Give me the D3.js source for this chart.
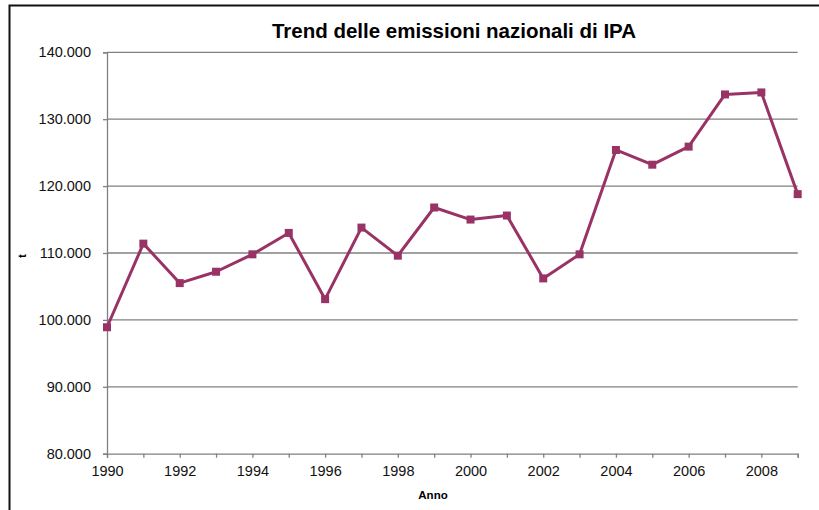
<!DOCTYPE html>
<html>
<head>
<meta charset="utf-8">
<script src="https://cdn.jsdelivr.net/npm/d3@7"></script>
<style>
  html, body { margin: 0; padding: 0; background: #fff; }
  svg { display: block; font-family: "Liberation Sans", Arial, sans-serif; }
</style>
</head>
<body>
<svg id="chart" width="819" height="510"></svg>
<script>
// Annual national PAH (IPA) emissions, tonnes
const years = [1990, 1991, 1992, 1993, 1994, 1995, 1996, 1997, 1998, 1999,
               2000, 2001, 2002, 2003, 2004, 2005, 2006, 2007, 2008, 2009];
const emissions = [98900, 111400, 105500, 107200, 109800, 113000, 103100, 113800, 109600, 116800,
                   115000, 115600, 106200, 109800, 125400, 123200, 125900, 133700, 134000, 118800];
const yTicks = [80000, 90000, 100000, 110000, 120000, 130000, 140000];
const xTickLabels = [1990, 1992, 1994, 1996, 1998, 2000, 2002, 2004, 2006, 2008];
const titleText = "Trend delle emissioni nazionali di IPA";
const xTitle = "Anno";
const yTitle = "t";

const svg = d3.select("#chart");
const lineColor = "#993366";
const gridColor = "#808080";
const fontFam = "Liberation Sans, Arial, sans-serif";

const plot = { left: 107, right: 797.7, top: 52.3, bottom: 453.7 };

const x = d3.scaleLinear().domain([1990, 2009]).range([plot.left, plot.right]);
const y = d3.scaleLinear().domain([80000, 140000]).range([plot.bottom, plot.top]);

const fmt = v => d3.format(",.0f")(v).replace(/,/g, ".");

// outer frame (top and left edges visible)
svg.append("path")
  .attr("d", "M9.5,510 L9.5,5.5 L819,5.5")
  .attr("fill", "none").attr("stroke", "#111").attr("stroke-width", 2);

// title
svg.append("text")
  .attr("x", 454).attr("y", 38)
  .attr("text-anchor", "middle")
  .attr("font-size", 20.5).attr("font-weight", "bold").attr("fill", "#000")
  .text(titleText);

// horizontal gridlines
svg.append("g").selectAll("line")
  .data(yTicks.filter(d => d > 80000))
  .join("line")
  .attr("x1", plot.left).attr("x2", plot.right)
  .attr("y1", d => y(d)).attr("y2", d => y(d))
  .attr("stroke", gridColor).attr("stroke-width", 1.3);

// y axis
const yAxis = d3.axisLeft(y).tickValues(yTicks).tickSize(4).tickPadding(12).tickFormat(fmt);
const gy = svg.append("g").attr("transform", `translate(${plot.left},0)`).call(yAxis);
gy.select(".domain").attr("stroke", gridColor).attr("stroke-width", 1.3);
gy.selectAll(".tick line").attr("stroke", gridColor).attr("stroke-width", 1.3);
gy.selectAll(".tick text").attr("font-size", 14.5).attr("fill", "#111")
  .attr("font-family", fontFam);

// x axis: ticks every year, labels every other year
const xAxis = d3.axisBottom(x).tickValues(years).tickSize(4).tickPadding(8)
  .tickFormat(d => xTickLabels.includes(d) ? String(d) : "");
const gx = svg.append("g").attr("transform", `translate(0,${plot.bottom})`).call(xAxis);
gx.select(".domain").attr("stroke", gridColor).attr("stroke-width", 1.3);
gx.selectAll(".tick line").attr("stroke", gridColor).attr("stroke-width", 1.3);
gx.selectAll(".tick text").attr("font-size", 14.5).attr("fill", "#111")
  .attr("font-family", fontFam);

// axis titles
svg.append("text")
  .attr("x", 433).attr("y", 499)
  .attr("text-anchor", "middle")
  .attr("font-size", 11.5).attr("font-weight", "bold").attr("fill", "#000")
  .text(xTitle);

svg.append("text")
  .attr("transform", "translate(26,256) rotate(-90)")
  .attr("text-anchor", "middle")
  .attr("font-size", 11.5).attr("font-weight", "bold").attr("fill", "#000")
  .text(yTitle);

// series line
const data = years.map((yr, i) => ({ yr, v: emissions[i] }));
svg.append("path")
  .datum(data)
  .attr("fill", "none")
  .attr("stroke", lineColor)
  .attr("stroke-width", 3)
  .attr("stroke-linejoin", "round")
  .attr("d", d3.line().x(d => x(d.yr)).y(d => y(d.v)));

// square markers
const m = 8;
svg.append("g").selectAll("rect")
  .data(data)
  .join("rect")
  .attr("x", d => x(d.yr) - m / 2)
  .attr("y", d => y(d.v) - m / 2)
  .attr("width", m).attr("height", m)
  .attr("fill", lineColor);
</script>
</body>
</html>
